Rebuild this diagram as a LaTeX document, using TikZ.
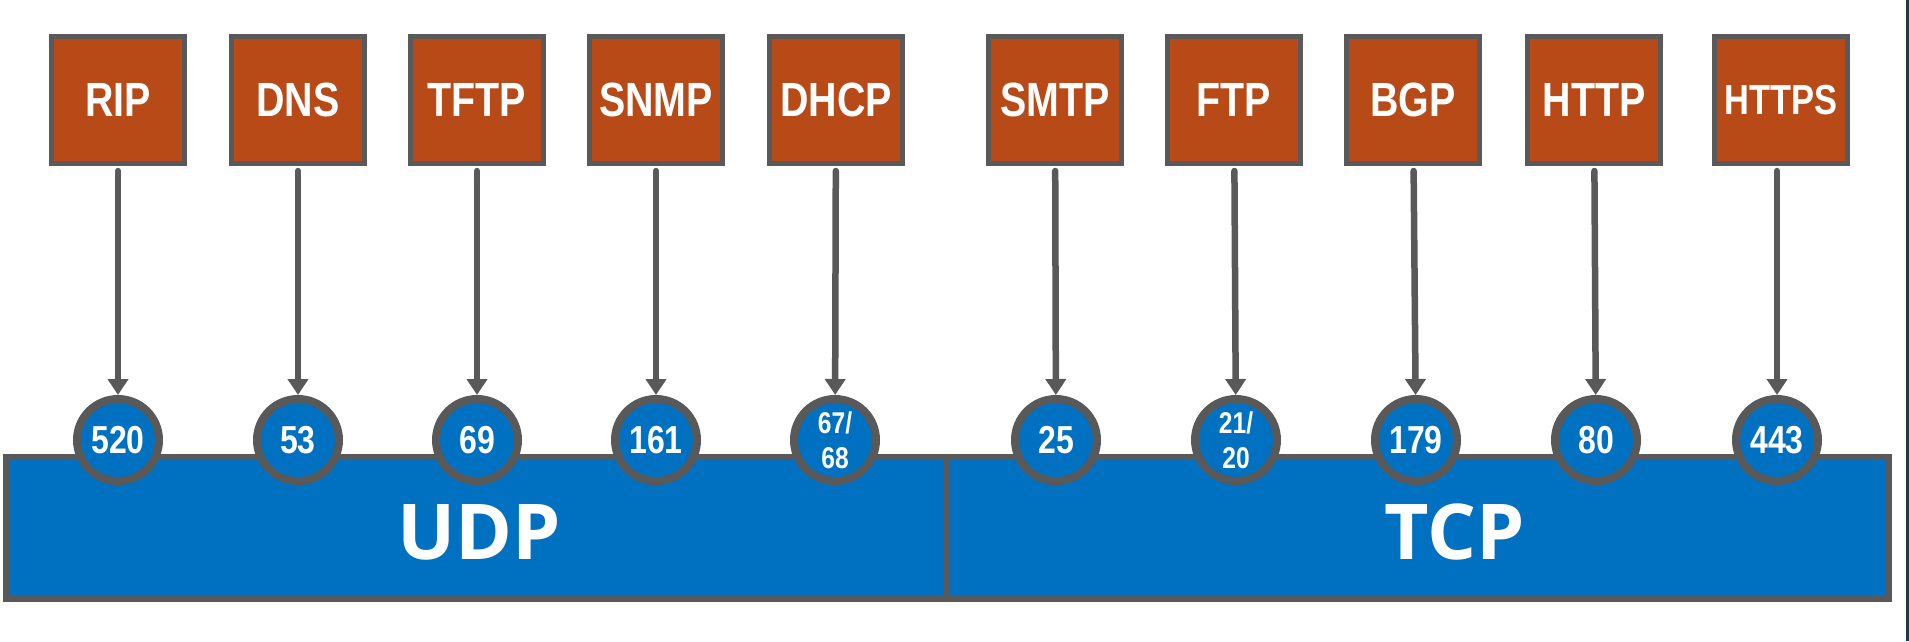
\documentclass[tikz,border=0pt]{standalone}
\usepackage{fontspec}
\usetikzlibrary{arrows.meta}
\newfontfamily\labfont{Liberation Sans}[FakeStretch=0.82]
\newfontfamily\barfont{Open Sans}
\definecolor{boxorange}{RGB}{184,74,24}
\definecolor{edgegray}{RGB}{89,89,89}
\definecolor{portblue}{RGB}{0,112,192}
\definecolor{edgeteal}{RGB}{28,58,72}
\tikzset{
  pbox/.style={draw=edgegray, line width=5pt, fill=boxorange, minimum width=133pt, minimum height=127pt, inner sep=0pt, text=white, font=\labfont\bfseries\fontsize{48}{50}\selectfont},
  port/.style={circle, draw=edgegray, line width=8pt, fill=portblue, minimum size=82pt, inner sep=0pt, text=white, font=\labfont\bfseries\fontsize{39}{40}\selectfont},
  port2/.style={port, align=center, font=\labfont\bfseries\fontsize{30}{35}\selectfont},
  bar/.style={draw=edgegray, line width=6pt, fill=portblue, minimum height=142pt, inner sep=0pt},
  bartext/.style={text=white, inner sep=0pt, font=\barfont\bfseries\fontsize{77}{80}\selectfont},
  arr/.style={draw=edgegray, line width=6.5pt, line cap=round, -{Triangle[width=20pt,length=16pt]}, shorten <=5pt}
}
\begin{document}
\begin{tikzpicture}[x=1pt,y=-1pt]
\useasboundingbox (0,0) rectangle (1909,641);
\fill[white] (0,0) rectangle (1909,641);
\fill[edgeteal] (1906,0) rectangle (1909,641);
% transport bars
\node[bar, minimum width=941pt] (udp) at (476.5,528) {};
\node[bar, minimum width=942pt] (tcp) at (1418,528) {};
\node[bartext] (udpl) at (479,532) {UDP};
\node[bartext] (tcpl) at (1455,532) {TCP};
% application boxes
\node[pbox] (b1) at (118,100) {RIP};
\node[pbox] (b2) at (298,100) {DNS};
\node[pbox] (b3) at (477,100) {TFTP};
\node[pbox] (b4) at (656,100) {SNMP};
\node[pbox] (b5) at (836,100) {DHCP};
\node[pbox] (b6) at (1055,100) {SMTP};
\node[pbox] (b7) at (1234,100) {FTP};
\node[pbox] (b8) at (1413,100) {BGP};
\node[pbox] (b9) at (1594,100) {HTTP};
\node[pbox, font=\labfont\bfseries\fontsize{42}{44}\selectfont] (b10) at (1781,100) {HTTPS};
% ports
\node[port] (c1) at (118,440) {520};
\node[port] (c2) at (298,440) {53};
\node[port] (c3) at (477,440) {69};
\node[port] (c4) at (656,440) {161};
\node[port2] (c5) at (835,440) {67/\\68};
\node[port] (c6) at (1056,440) {25};
\node[port2] (c7) at (1236,440) {21/\\20};
\node[port] (c8) at (1416,440) {179};
\node[port] (c9) at (1596,440) {80};
\node[port] (c10) at (1777,440) {443};
% connectors
\foreach \i in {1,...,9} {\draw[arr] (b\i) -- (c\i);}
\draw[arr] (b10.south -| c10) -- (c10);
\end{tikzpicture}
\end{document}
